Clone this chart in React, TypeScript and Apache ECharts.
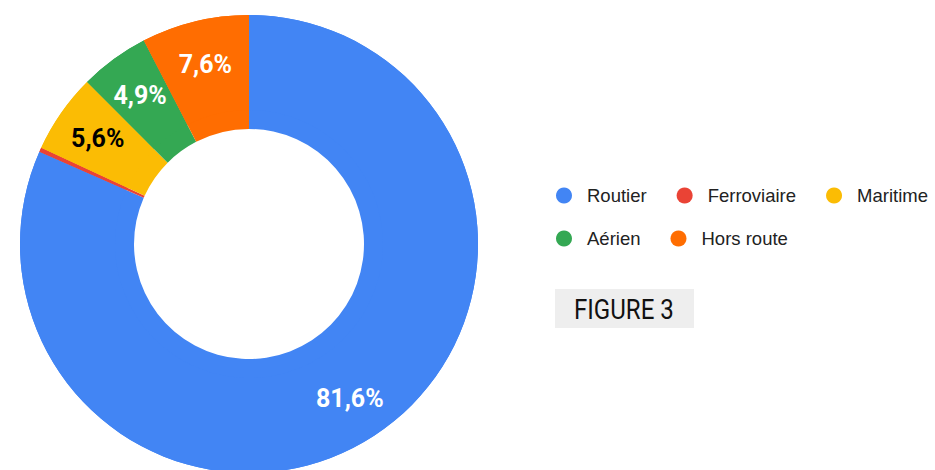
import React, { useEffect, useRef } from "react";
import * as echarts from "echarts";

const categories = ["Routier", "Ferroviaire", "Maritime", "Aérien", "Hors route"];
const legendRow1 = ["Routier", "Ferroviaire", "Maritime"];
const legendRow2 = ["Aérien", "Hors route"];
const values = [81.6, 0.3, 5.6, 4.9, 7.6];
const colors = ["#4285f4", "#ea4335", "#fbbc04", "#34a853", "#ff6d01"];
const labelColors = ["#ffffff", "#ffffff", "#000000", "#ffffff", "#ffffff"];
const showLabel = [true, false, true, true, true];
const figureLabel = "FIGURE 3";

export default function App() {
  const ref = useRef<HTMLDivElement>(null);
  useEffect(() => {
    if (!ref.current) return;
    const chart = echarts.init(ref.current, undefined, { renderer: "svg" });
    const fmt = (p: any) => p.value.toFixed(1).replace(".", ",") + "%";
    const baseData = categories.map((name, i) => ({
      name,
      value: values[i],
      itemStyle: { color: colors[i] },
    }));
    const labelData = categories.map((name, i) => ({
      name,
      value: values[i],
      itemStyle: { color: colors[i] },
      label: { show: showLabel[i], color: labelColors[i] },
    }));
    const legendBase = {
      left: 556,
      padding: 0,
      itemGap: 30,
      itemWidth: 16,
      itemHeight: 16,
      icon: "circle",
      selectedMode: false,
      textStyle: {
        fontFamily: "'Liberation Sans', Arial, sans-serif",
        fontSize: 18.5,
        lineHeight: 23,
        padding: [0, 0, 0, 10],
        color: "#222222",
      },
    };
    chart.setOption({
      animation: false,
      legend: [
        { ...legendBase, top: 184, data: legendRow1 },
        { ...legendBase, top: 227, data: legendRow2 },
      ],
      graphic: [
        {
          type: "rect",
          x: 555,
          y: 289,
          shape: { x: 0, y: 0, width: 139, height: 39 },
          style: { fill: "#eeeeee" },
        },
        {
          type: "text",
          x: 574,
          y: 295,
          scaleX: 0.86,
          style: {
            text: figureLabel,
            x: 0,
            y: 0,
            fontFamily: "Roboto, sans-serif",
            fontSize: 28,
            fill: "#111111",
            verticalAlign: "top",
          },
        },
      ],
      series: [
        {
          type: "pie",
          center: [249, 244],
          radius: [115, 229],
          startAngle: 90,
          clockwise: true,
          silent: true,
          label: { show: false },
          labelLine: { show: false },
          data: baseData,
        },
        {
          type: "pie",
          center: [249, 244],
          radius: [134, 229],
          startAngle: 90,
          clockwise: true,
          silent: true,
          label: {
            show: true,
            position: "inside",
            formatter: fmt,
            fontFamily: "Roboto, 'Noto Sans', sans-serif",
            fontWeight: "bold",
            fontSize: 25,
          },
          labelLine: { show: false },
          data: labelData,
        },
      ],
    });
    return () => chart.dispose();
  }, []);
  return (
    <div
      ref={ref}
      style={{ position: "absolute", left: 0, top: 0, width: 935, height: 470 }}
    />
  );
}
